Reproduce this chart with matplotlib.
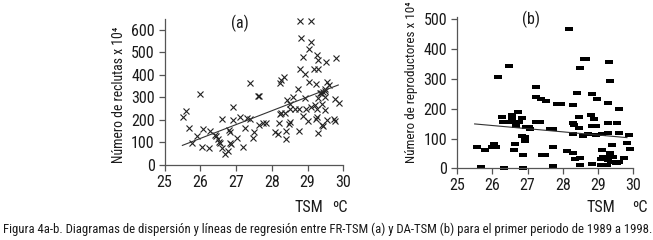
import matplotlib
matplotlib.use("Agg")
import matplotlib.pyplot as plt
from matplotlib import font_manager

names = {f.name for f in font_manager.fontManager.ttflist}
prefs = ["Liberation Sans Narrow", "Arial Narrow", "Roboto Condensed", "Archivo Narrow",
         "Barlow Semi Condensed", "Asap Condensed", "Liberation Sans"]
first = next(p for p in prefs if p in names)
FAM = [first, "DejaVu Sans"]
plt.rcParams['font.family'] = FAM

# ---------------- data (a): FR-TSM ----------------
tsm_a = [25.52, 25.60, 25.99, 25.69, 25.76, 25.90, 26.04, 26.08, 26.25, 26.28,
         26.41, 26.43, 26.50, 26.55, 26.53, 26.60, 26.62, 26.69, 26.78, 26.82,
         26.80, 26.85, 26.83, 26.92, 26.92, 27.03, 27.11, 27.20, 27.24, 27.32,
         27.39, 27.39, 27.48, 27.50, 27.62, 27.64, 27.65, 27.75, 27.84, 28.09,
         28.16, 28.20, 28.23, 28.26, 28.33, 28.23, 28.25, 28.36, 28.40, 28.40,
         28.43, 28.47, 28.50, 28.50, 28.50, 28.60, 28.65, 28.75, 28.74, 28.77,
         28.79, 28.79, 28.81, 28.87, 28.88, 28.93, 28.93, 28.95, 29.00, 29.05,
         29.05, 29.10, 29.10, 29.10, 29.18, 29.20, 29.25, 29.27, 29.27, 29.27,
         29.25, 29.30, 29.30, 29.30, 29.30, 29.37, 29.35, 29.42, 29.40, 29.42,
         29.40, 29.50, 29.48, 29.50, 29.50, 29.52, 29.54, 29.54, 29.60, 29.77,
         29.77, 29.75, 29.80, 29.89]
rec_a = [215, 241, 314, 163, 96, 129, 79, 159, 74, 152,
         133, 128, 115, 96, 104, 203, 74, 50, 62, 148,
         155, 93, 98, 259, 200, 118, 212, 79, 163, 210,
         366, 203, 122, 148, 304, 308, 178, 185, 185, 148,
         136, 185, 366, 375, 392, 225, 230, 232, 153, 115,
         289, 180, 190, 270, 247, 300, 250, 250, 336, 152,
         425, 637, 563, 479, 218, 404, 296, 247, 197, 514,
         370, 637, 544, 256, 425, 265, 360, 489, 250, 211,
         205, 464, 425, 296, 144, 320, 318, 322, 178, 172,
         270, 336, 330, 300, 244, 455, 370, 200, 355, 292,
         195, 205, 474, 274]
reg_a_x = [25.5, 29.86]
reg_a_y = [87, 355]

# ---------------- data (b): DA-TSM ----------------
tsm_b = [25.56, 25.67, 25.78, 26.00, 26.05, 26.10, 26.17, 26.29, 26.30, 26.34,
         26.48, 26.50, 26.55, 26.55, 26.60, 26.62, 26.64, 26.67, 26.74, 26.77,
         26.85, 26.85, 26.86, 26.86, 26.94, 26.94, 26.97, 27.04, 27.08, 27.24,
         27.24, 27.24, 27.36, 27.38, 27.52, 27.42, 27.50, 27.64, 27.73, 27.71,
         27.73, 27.84, 27.94, 28.13, 28.19, 28.28, 28.29, 28.29, 28.29, 28.33,
         28.34, 28.39, 28.46, 28.46, 28.48, 28.48, 28.50, 28.56, 28.60, 28.66,
         28.71, 28.79, 28.82, 28.82, 28.82, 28.88, 28.95, 28.96, 28.93, 29.07,
         29.08, 29.10, 29.10, 29.15, 29.26, 29.29, 29.29, 29.29, 29.29, 29.32,
         29.34, 29.35, 29.35, 29.37, 29.41, 29.42, 29.50, 29.54, 29.54, 29.59,
         29.60, 29.60, 29.75, 29.83, 29.88, 29.92]
rep_b = [72, 5, 63, 72, 80, 72, 305, 173, 157, 1,
         343, 154, 179, 168, 154, 63, 81, 143, 190, 154,
         168, 107, 46, 0, 104, 90, 138, 138, 131, 272,
         238, 154, 154, 234, 227, 46, 46, 131, 131, 70,
         8, 216, 216, 59, 467, 212, 151, 115, 52, 146,
         31, 252, 173, 134, 336, 11, 35, 108, 366, 366,
         115, 179, 249, 142, 15, 164, 142, 232, 111, 11,
         30, 115, 62, 38, 11, 220, 151, 117, 28, 356,
         53, 293, 40, 22, 78, 38, 18, 151, 18, 199,
         117, 22, 33, 84, 112, 64]
reg_b_x = [25.5, 29.82]
reg_b_y = [149, 103]

x_ticks = [25, 26, 27, 28, 29, 30]
y_ticks_a = [0, 100, 200, 300, 400, 500, 600]
y_ticks_b = [0, 100, 200, 300, 400, 500]

label_a = "Número de reclutas x 10⁴"
label_b = "Número de reproductores x 10⁴"
caption = ("Figura 4a-b. Diagramas de dispersión y líneas de regresión entre FR-TSM (a) "
           "y DA-TSM (b) para el primer periodo de 1989 a 1998.")

W, H = 653, 240
fig = plt.figure(figsize=(W / 100, H / 100), dpi=100)

def box(l, r, b, t):
    return [l / W, 1 - b / H, (r - l) / W, (b - t) / H]

ax1 = fig.add_axes(box(164.5, 343.3, 165, 18.5))
ax2 = fig.add_axes(box(457, 633.3, 168.3, 16.7))

spine_c = "#555555"
TXT = "#1a1a1a"
for ax in (ax1, ax2):
    for s in ("top", "right"):
        ax.spines[s].set_visible(False)
    for s in ("left", "bottom"):
        ax.spines[s].set_color(spine_c)
        ax.spines[s].set_linewidth(0.9)
    ax.tick_params(direction="out", length=4, width=0.9, color=spine_c,
                   labelsize=11.5, pad=3, labelcolor=TXT)
    ax.set_xlim(25, 30)
    ax.set_xticks(x_ticks)
    ax.patch.set_alpha(0)

ax1.set_ylim(0, 650)
ax1.set_yticks(y_ticks_a)
ax2.set_ylim(0, 509)
ax2.set_yticks(y_ticks_b)

ax1.plot(tsm_a, rec_a, linestyle="none", marker="x", markersize=4.2,
         markeredgewidth=0.8, color="#222222", clip_on=False)
ax1.plot(reg_a_x, reg_a_y, color="#333333", linewidth=0.8)

rect = [(-1, -0.42), (1, -0.42), (1, 0.42), (-1, 0.42), (-1, -0.42)]
ax2.plot(tsm_b, rep_b, linestyle="none", marker=rect, markersize=5.2,
         markeredgewidth=0, color="black", clip_on=False)
ax2.plot(reg_b_x, reg_b_y, color="#333333", linewidth=0.8)

ta = fig.text(119 / W, 1 - 95 / H, label_a, rotation=90, ha="center", va="center",
              fontsize=12, color=TXT)
tb = fig.text(411 / W, 1 - 82.5 / H, label_b, rotation=90, ha="center", va="center",
              fontsize=12, color=TXT)

fig.text(240 / W, 1 - 23 / H, "(a)", ha="center", va="center", fontsize=11.5, color=TXT)
fig.text(531 / W, 1 - 19 / H, "(b)", ha="center", va="center", fontsize=11.5, color=TXT)

for x, s in ((309, "TSM"), (340, "ºC"), (601, "TSM"), (640, "ºC")):
    fig.text(x / W, 1 - 207 / H, s, ha="center", va="center", fontsize=11.5, color=TXT)

tc = fig.text(3 / W, 1 - 229 / H, caption, ha="left", va="center", fontsize=10.2, color=TXT)

# fit text lengths to the reference layout
fig.canvas.draw()
r = fig.canvas.get_renderer()
for t, target, vertical in ((ta, 136, True), (tb, 161, True), (tc, 646, False)):
    ext = t.get_window_extent(r)
    cur = ext.height if vertical else ext.width
    t.set_fontsize(t.get_fontsize() * target / cur)

fig.savefig("out.png", dpi=100)
